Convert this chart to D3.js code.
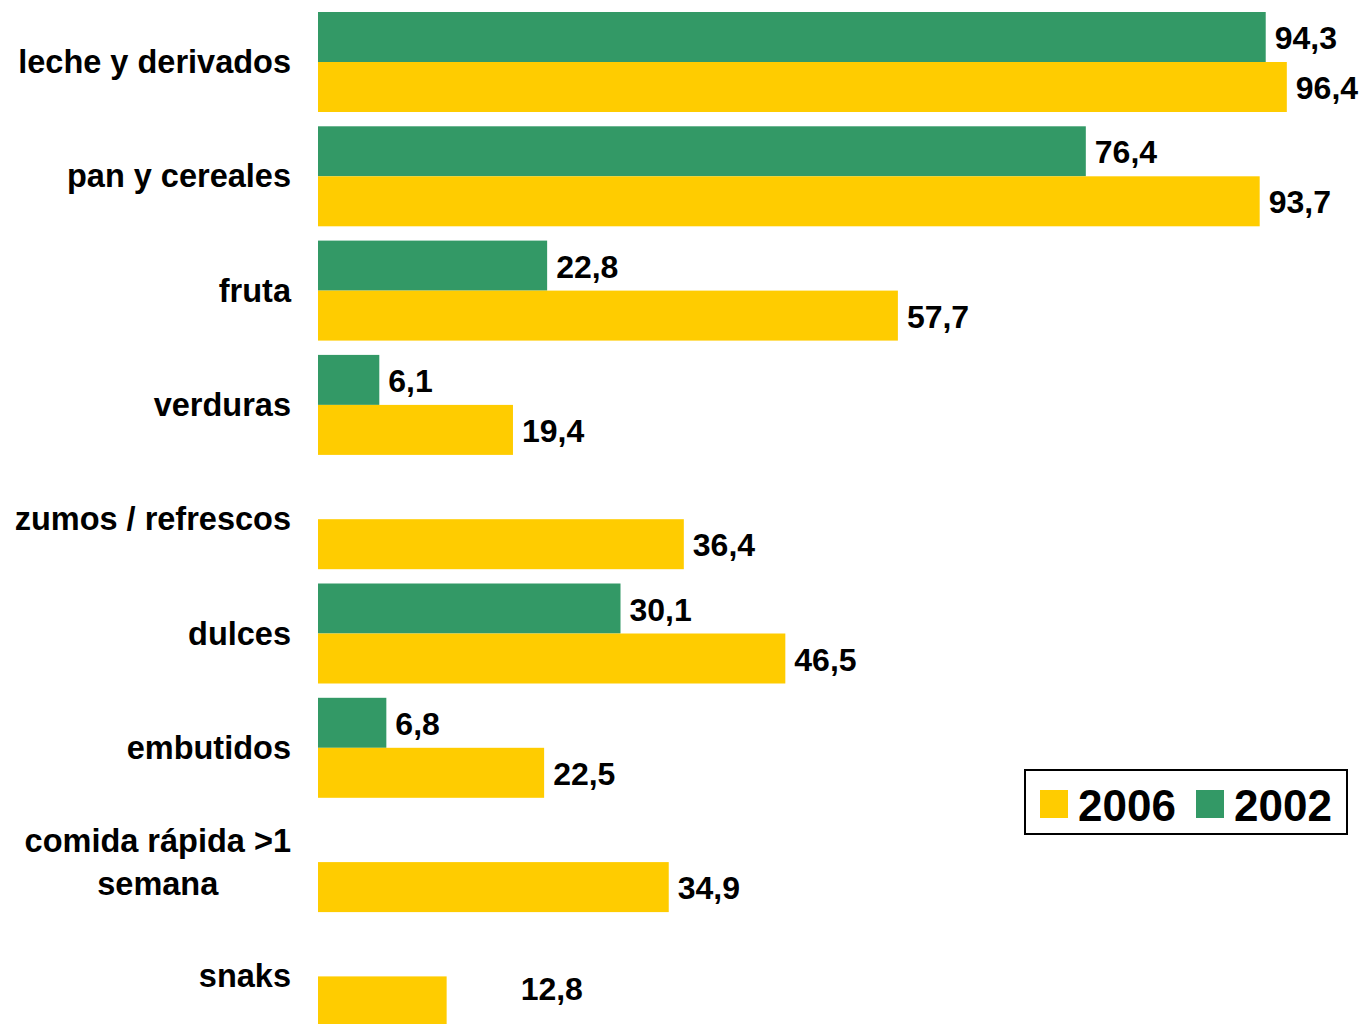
<!DOCTYPE html>
<html>
<head>
<meta charset="utf-8">
<script src="https://cdn.jsdelivr.net/npm/d3@7"></script>
<style>
  html, body { margin: 0; padding: 0; background: #fff; }
  svg { display: block; font-family: "Liberation Sans", Arial, sans-serif; font-weight: bold; }
</style>
</head>
<body>
<svg id="chart" width="1364" height="1024"></svg>
<script>
// ---- data ----
const categories = [
  "leche y derivados",
  "pan y cereales",
  "fruta",
  "verduras",
  "zumos / refrescos",
  "dulces",
  "embutidos",
  "comida rápida >1\nsemana",
  "snaks"
];
const values2002 = [94.3, 76.4, 22.8, 6.1, null, 30.1, 6.8, null, null];
const values2006 = [96.4, 93.7, 57.7, 19.4, 36.4, 46.5, 22.5, 34.9, 12.8];
const seriesNames = ["2002", "2006"];
const legendOrder = ["2006", "2002"];

// ---- styles ----
const colors = { "2002": "#339966", "2006": "#FFCC00" };
const labelDxDefault = 9;
const labelShiftSpecial = { "snaks": { dx: 74, dy: -13 } };

const svg = d3.select("#chart");
const step = 114.3, bandW = 100;
const pIn = (step - bandW) / step;
const y = d3.scaleBand()
  .domain(categories)
  .range([12, 12 + step * (categories.length - pIn)])
  .paddingInner(pIn).paddingOuter(0);
const ySub = d3.scaleBand().domain(seriesNames).range([0, y.bandwidth()]);
const x = d3.scaleLinear().domain([0, 100]).range([318, 1323]);

const rows = [];
categories.forEach((c, i) => {
  if (values2002[i] != null) rows.push({ cat: c, s: "2002", v: values2002[i] });
  if (values2006[i] != null) rows.push({ cat: c, s: "2006", v: values2006[i] });
});

svg.append("g").selectAll("rect").data(rows).join("rect")
  .attr("x", x(0))
  .attr("y", d => y(d.cat) + ySub(d.s))
  .attr("width", d => x(d.v) - x(0))
  .attr("height", ySub.bandwidth())
  .attr("fill", d => colors[d.s]);

const fmt = v => d3.format(".1f")(v).replace(".", ",");
const shift = d => (d.s === "2006" && labelShiftSpecial[d.cat]) ? labelShiftSpecial[d.cat] : { dx: labelDxDefault, dy: 0 };
svg.append("g").selectAll("text").data(rows).join("text")
  .attr("x", d => x(d.v) + shift(d).dx)
  .attr("y", d => y(d.cat) + ySub(d.s) + ySub.bandwidth() / 2 + 1 + shift(d).dy)
  .attr("dominant-baseline", "central")
  .attr("font-size", 32)
  .attr("fill", "#000")
  .text(d => fmt(d.v));

// category labels
const labelRight = 291;
const catG = svg.append("g");
categories.forEach(c => {
  const lines = c.split("\n");
  const cy = y(c) + y.bandwidth() / 2;
  const lh = 43;
  const t = catG.append("text")
    .attr("font-size", 32.5)
    .attr("fill", "#000");
  lines.forEach((ln, k) => {
    t.append("tspan")
      .attr("y", cy + (k - (lines.length - 1) / 2) * lh)
      .attr("dominant-baseline", "central")
      .text(ln);
  });
  if (lines.length === 1) {
    t.attr("text-anchor", "end").selectAll("tspan").attr("x", labelRight);
  } else {
    let maxW = 0;
    t.selectAll("tspan").each(function () { maxW = Math.max(maxW, this.getComputedTextLength()); });
    t.attr("text-anchor", "middle").selectAll("tspan").attr("x", labelRight - maxW / 2);
  }
});

// legend
const lg = svg.append("g");
lg.append("rect").attr("x", 1025).attr("y", 770).attr("width", 322).attr("height", 64)
  .attr("fill", "#fff").attr("stroke", "#000").attr("stroke-width", 2);
const lx = [1040, 1196];
legendOrder.forEach((s, i) => {
  lg.append("rect").attr("x", lx[i]).attr("y", 790).attr("width", 28).attr("height", 28).attr("fill", colors[s]);
  lg.append("text").attr("x", lx[i] + 38).attr("y", 805)
    .attr("dominant-baseline", "central").attr("font-size", 44).attr("fill", "#000").text(s);
});
</script>
</body>
</html>
